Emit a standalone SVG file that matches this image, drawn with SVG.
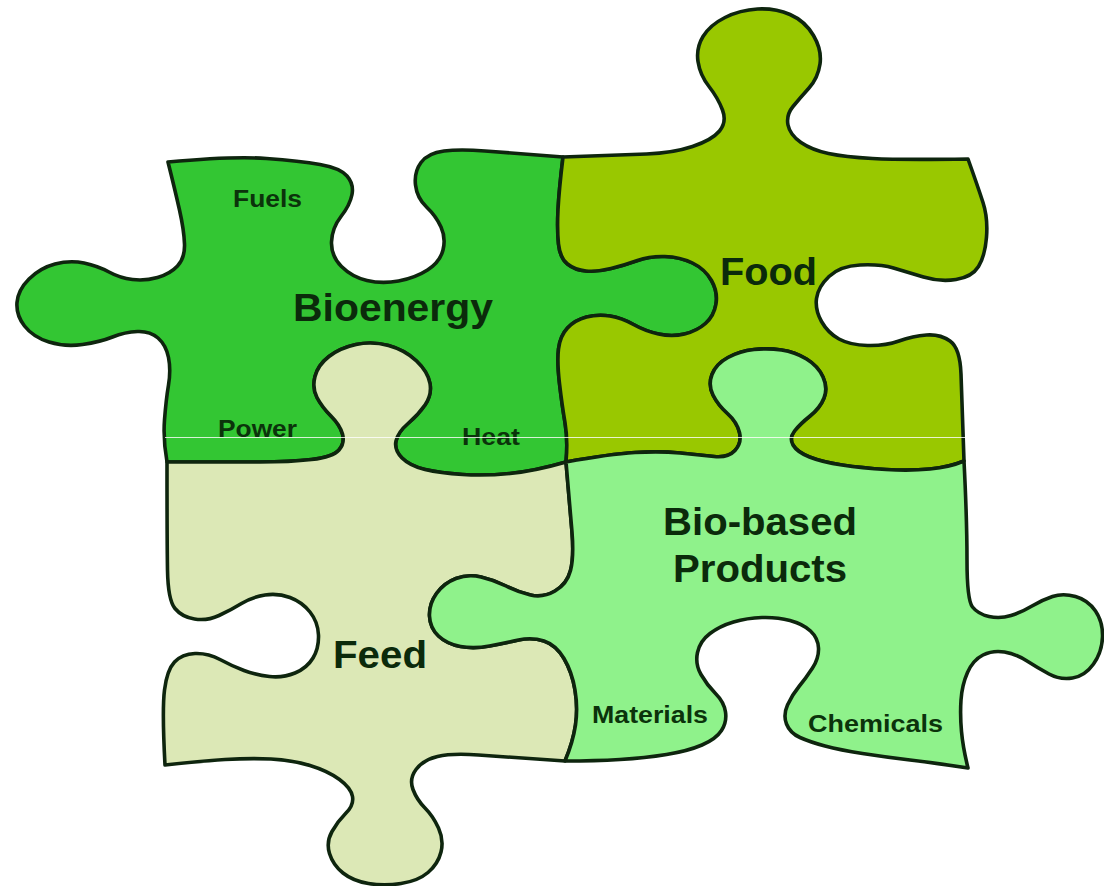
<svg xmlns="http://www.w3.org/2000/svg" width="1104" height="886" viewBox="0 0 1104 886">
<style>
.piece{stroke:#0e250e;stroke-width:3.6;stroke-linejoin:round}
.big{font-family:"Liberation Sans",Arial,sans-serif;font-weight:bold;fill:#0b2a0b}
.small{font-family:"Liberation Sans",Arial,sans-serif;font-weight:bold;font-size:23px;fill:#0b330b}
</style>
<rect width="1104" height="886" fill="#ffffff"/>
<g id="bioenergy">
<path class="piece" fill="#33c633" d="M168,162 Q233,156 266.5,158.5 Q300,161 320,164.5 Q340,168 347,176 Q354,184 352,194.5 Q350,205 341,216.5 Q332,228 331.5,242 Q331,256 341.5,266.5 Q352,277 367,280.5 Q382,284 398.5,281 Q415,278 427.5,270 Q440,262 443,250 Q446,238 441,227 Q436,216 426.5,207 Q417,198 415.5,185 Q414,172 421,162.5 Q428,153 444,151 Q460,149 485,151 Q510,153 563,157 Q559,190 558,210 Q557,230 558.5,244 Q560,258 567.5,264 Q575,270 586,271 Q597,272 611,268.5 Q625,265 637.5,260.5 Q650,256 665,256.5 Q680,257 692.5,263 Q705,269 711.5,280.5 Q718,292 716,304 Q714,316 705.5,323.5 Q697,331 684.5,334 Q672,337 658.5,334 Q645,331 633.5,324.5 Q622,318 610,316 Q598,314 586.5,317 Q575,320 567.5,328 Q560,336 558.5,349 Q557,362 559.5,383.5 Q562,405 565,422.5 Q568,440 566,462 Q535,471 510,473.5 Q485,476 462.5,474.5 Q440,473 425,469.5 Q410,466 402,458 Q394,450 396,441 Q398,432 408,423.5 Q418,415 425,405 Q432,395 430,383.5 Q428,372 416.5,361 Q405,350 388.5,345.5 Q372,341 356,344.5 Q340,348 329,356.5 Q318,365 315,376.5 Q312,388 317,397.5 Q322,407 331,416 Q340,425 342.5,434 Q345,443 339,450 Q333,457 311.5,459.5 Q290,462 260,462 Q230,462 167,462 Q163,440 164.5,420 Q166,400 168.5,385 Q171,370 168.5,357.5 Q166,345 158,338 Q150,331 137.5,331.5 Q125,332 112.5,337 Q100,342 82.5,344.5 Q65,347 49,342 Q33,337 24.5,326 Q16,315 17,302.5 Q18,290 29,279 Q40,268 55,264 Q70,260 84,263 Q98,266 109,272 Q120,278 132.5,279.5 Q145,281 157.5,277.5 Q170,274 177.5,266 Q185,258 184.5,244 Q184,230 179.5,210 Q175,190 168,162 Z"/>
<text class="big" x="293" y="321" font-size="38" textLength="200" lengthAdjust="spacingAndGlyphs">Bioenergy</text>
<text class="small" x="233" y="207" textLength="69" lengthAdjust="spacingAndGlyphs">Fuels</text>
<text class="small" x="218" y="437" textLength="79" lengthAdjust="spacingAndGlyphs">Power</text>
<text class="small" x="462" y="445" textLength="58" lengthAdjust="spacingAndGlyphs">Heat</text>
</g>
<g id="food">
<path class="piece" fill="#99c800" d="M563,157 Q620,155 646.5,154 Q673,153 692.5,146.5 Q712,140 719.5,131 Q727,122 722.5,110 Q718,98 709,86.5 Q700,75 698,61.5 Q696,48 703,36.5 Q710,25 725,17.5 Q740,10 757.5,9 Q775,8 790,14.5 Q805,21 813.5,35.5 Q822,50 820,64 Q818,78 809,88 Q800,98 793,106.5 Q786,115 788,125 Q790,135 801,142.5 Q812,150 828.5,153.5 Q845,157 872.5,158.5 Q900,160 968,159 Q978,187 983,202.5 Q988,218 986.5,237 Q985,256 978.5,266.5 Q972,277 956,279.5 Q940,282 923.5,277 Q907,272 893.5,268 Q880,264 860,265 Q840,266 829,276.5 Q818,287 816.5,298.5 Q815,310 821.5,321.5 Q828,333 839,339 Q850,345 867.5,345.5 Q885,346 899,341 Q913,336 926.5,335 Q940,334 950,341 Q960,348 961,374 Q962,400 964,461 Q950,467 930,469 Q910,471 886,469.5 Q862,468 842,465 Q822,462 809.5,457 Q797,452 793,445 Q789,438 794.5,431 Q800,424 810,416 Q820,408 824,398 Q828,388 823,377 Q818,366 806.5,359 Q795,352 781.5,350 Q768,348 754,349.5 Q740,351 728,357.5 Q716,364 712,374.5 Q708,385 713,395 Q718,405 727.5,413.5 Q737,422 739.5,432.5 Q742,443 735,450.5 Q728,458 714,456.5 Q700,455 680,453 Q660,451 635,452.5 Q610,454 566,462 Q568,440 565,422.5 Q562,405 559.5,383.5 Q557,362 558.5,349 Q560,336 567.5,328 Q575,320 586.5,317 Q598,314 610,316 Q622,318 633.5,324.5 Q645,331 658.5,334 Q672,337 684.5,334 Q697,331 705.5,323.5 Q714,316 716,304 Q718,292 711.5,280.5 Q705,269 692.5,263 Q680,257 665,256.5 Q650,256 637.5,260.5 Q625,265 611,268.5 Q597,272 586,271 Q575,270 567.5,264 Q560,258 558.5,244 Q557,230 558,210 Q559,190 563,157 Z"/>
<text class="big" x="720" y="285" font-size="39" textLength="97" lengthAdjust="spacingAndGlyphs">Food</text>
</g>
<g id="feed">
<path class="piece" fill="#dce8b6" d="M167,462 Q230,462 260,462 Q290,462 311.5,459.5 Q333,457 339,450 Q345,443 342.5,434 Q340,425 331,416 Q322,407 317,397.5 Q312,388 315,376.5 Q318,365 329,356.5 Q340,348 356,344.5 Q372,341 388.5,345.5 Q405,350 416.5,361 Q428,372 430,383.5 Q432,395 425,405 Q418,415 408,423.5 Q398,432 396,441 Q394,450 402,458 Q410,466 425,469.5 Q440,473 462.5,474.5 Q485,476 510,473.5 Q535,471 566,462 Q570,507 572,532 Q574,557 570.5,570.5 Q567,584 555,591 Q543,598 530.5,595 Q518,592 506,586 Q494,580 481,577 Q468,574 456,578.5 Q444,583 436.5,593.5 Q429,604 429.5,616 Q430,628 438.5,636 Q447,644 460.5,646.5 Q474,649 489.5,646 Q505,643 518.5,640 Q532,637 544,641 Q556,645 564,658.5 Q572,672 575,690 Q578,708 575.5,725 Q573,742 565,761 Q505,757 478.5,755 Q452,753 437.5,756.5 Q423,760 416,769.5 Q409,779 413,789.5 Q417,800 425,808 Q433,816 438.5,828 Q444,840 441,852 Q438,864 428,872.5 Q418,881 401,883.5 Q384,886 368.5,883.5 Q353,881 343,873 Q333,865 329.5,853.5 Q326,842 332,831.5 Q338,821 346,813 Q354,805 352.5,796.5 Q351,788 339.5,779.5 Q328,771 310,765.5 Q292,760 271,759 Q250,758 225,759.5 Q200,761 165,765 Q162,710 164.5,690 Q167,670 174.5,662 Q182,654 195,653.5 Q208,653 220,659.5 Q232,666 244,670.5 Q256,675 269.5,676.5 Q283,678 295,673 Q307,668 313,658 Q319,648 318.5,635 Q318,622 310,612 Q302,602 290,597.5 Q278,593 265,595 Q252,597 241.5,603.5 Q231,610 219,615.5 Q207,621 194.5,619 Q182,617 175,608.5 Q168,600 167.5,570 Q167,540 167,462 Z"/>
<text class="big" x="333" y="668" font-size="38" textLength="94" lengthAdjust="spacingAndGlyphs">Feed</text>
</g>
<g id="biobased">
<path class="piece" fill="#8ff28b" d="M566,462 Q610,454 635,452.5 Q660,451 680,453 Q700,455 714,456.5 Q728,458 735,450.5 Q742,443 739.5,432.5 Q737,422 727.5,413.5 Q718,405 713,395 Q708,385 712,374.5 Q716,364 728,357.5 Q740,351 754,349.5 Q768,348 781.5,350 Q795,352 806.5,359 Q818,366 823,377 Q828,388 824,398 Q820,408 810,416 Q800,424 794.5,431 Q789,438 793,445 Q797,452 809.5,457 Q822,462 842,465 Q862,468 886,469.5 Q910,471 930,469 Q950,467 964,461 Q967,520 967,560 Q967,600 972.5,607 Q978,614 989,616.5 Q1000,619 1011,615.5 Q1022,612 1032,606 Q1042,600 1052.5,596.5 Q1063,593 1075.5,596.5 Q1088,600 1095.5,611 Q1103,622 1102.5,637 Q1102,652 1093.5,664 Q1085,676 1072.5,678 Q1060,680 1049,674 Q1038,668 1027,661 Q1016,654 1004.5,652 Q993,650 983,655 Q973,660 967.5,672.5 Q962,685 961,700 Q960,715 961.5,731.5 Q963,748 968,768 Q935,763 910,760 Q885,757 862.5,753.5 Q840,750 825,746 Q810,742 800,737.5 Q790,733 786.5,724 Q783,715 787.5,705 Q792,695 799,686.5 Q806,678 812.5,668 Q819,658 818.5,648 Q818,638 810.5,631 Q803,624 790,620.5 Q777,617 762,617.5 Q747,618 733.5,622 Q720,626 710,633.5 Q700,641 697.5,652.5 Q695,664 701,674.5 Q707,685 715.5,693.5 Q724,702 725.5,712 Q727,722 721.5,730.5 Q716,739 702,745 Q688,751 666.5,754.5 Q645,758 620,759.5 Q595,761 565,761 Q573,742 575.5,725 Q578,708 575,690 Q572,672 564,658.5 Q556,645 544,641 Q532,637 518.5,640 Q505,643 489.5,646 Q474,649 460.5,646.5 Q447,644 438.5,636 Q430,628 429.5,616 Q429,604 436.5,593.5 Q444,583 456,578.5 Q468,574 481,577 Q494,580 506,586 Q518,592 530.5,595 Q543,598 555,591 Q567,584 570.5,570.5 Q574,557 572,532 Q570,507 566,462 Z"/>
<text class="big" x="663" y="535" font-size="38" textLength="194" lengthAdjust="spacingAndGlyphs">Bio-based</text>
<text class="big" x="673" y="582" font-size="38" textLength="174" lengthAdjust="spacingAndGlyphs">Products</text>
<text class="small" x="592" y="723" textLength="116" lengthAdjust="spacingAndGlyphs">Materials</text>
<text class="small" x="808" y="732" textLength="135" lengthAdjust="spacingAndGlyphs">Chemicals</text>
</g>
<line x1="165" y1="437.5" x2="966" y2="437.5" stroke="#ffffff" stroke-width="1" opacity="0.8"/>
</svg>
